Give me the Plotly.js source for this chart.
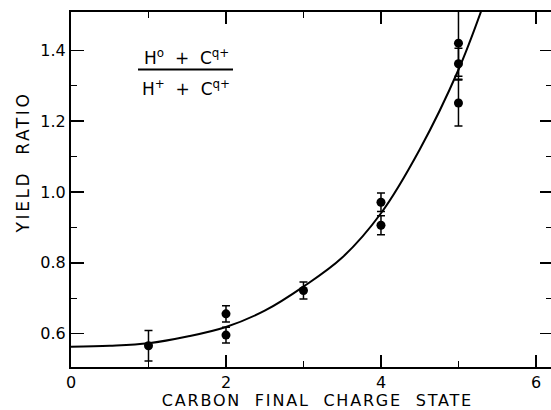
<!DOCTYPE html>
<html><head><meta charset="utf-8">
<script src="https://cdn.plot.ly/plotly-3.0.1.min.js"></script>
<style>
html,body{margin:0;padding:0;background:#fff;overflow:hidden}
#chart{width:551px;height:410px}
g.annotation[data-index="0"] text{letter-spacing:1.8px}
g.annotation[data-index="1"] text{letter-spacing:2.6px}
</style></head><body><div id="chart"></div>
<script>
// measured data points (carbon final charge state vs yield ratio)
const chargeStates = [1, 2, 2, 3, 4, 4, 5, 5, 5];
const yieldRatios  = [0.566, 0.656, 0.596, 0.722, 0.971, 0.906, 1.42, 1.362, 1.251];
const yieldErrors  = [0.043, 0.023, 0.022, 0.024, 0.026, 0.027, 0.093, 0.044, 0.065];
// fitted curve
const fitX = [0, 0.5, 1, 1.5, 2, 2.5, 3, 3.5, 4, 4.5, 5, 5.3];
const fitY = [0.563, 0.566, 0.573, 0.592, 0.619, 0.665, 0.733, 0.815, 0.94, 1.12, 1.345, 1.515];
// ticks
const xTickVals = [0, 2, 4, 6];
const xTickText = ['0', '2', '4', '6'];
const xMinorVals = [1, 3, 5];
const yTickVals = [0.6, 0.8, 1.0, 1.2, 1.4];
const yTickText = ['0.6', '0.8', '1.0', '1.2', '1.4'];
const yMinorVals = [0.7, 0.9, 1.1, 1.3];

const FONT = 'DejaVu Sans, Liberation Sans, sans-serif';
const yRange = [0.506, 1.508];

const traces = [
  {x: fitX, y: fitY, mode: 'lines', line: {shape: 'spline', color: '#000', width: 2}, hoverinfo: 'skip', showlegend: false},
  {x: chargeStates, y: yieldRatios, mode: 'markers', marker: {color: '#000', size: 9},
   error_y: {type: 'data', array: yieldErrors, visible: true, color: '#000', thickness: 1.5, width: 4},
   showlegend: false},
  {x: fitX, y: fitY, yaxis: 'y2', mode: 'lines', line: {width: 0}, opacity: 0, hoverinfo: 'skip', showlegend: false}
];

const layout = {
  width: 551, height: 410,
  margin: {l: 71, r: 0, t: 12, b: 43},
  paper_bgcolor: '#fff', plot_bgcolor: '#fff',
  font: {family: FONT, color: '#000'},
  xaxis: {
    range: [0, 6.194], tickmode: 'array', tickvals: xTickVals, ticktext: xTickText,
    ticks: 'inside', ticklen: 12, tickwidth: 1.5, tickcolor: '#000',
    showline: true, linewidth: 2, linecolor: '#000', mirror: 'ticks',
    showgrid: false, zeroline: false,
    tickfont: {family: FONT, size: 16, color: '#000'},
    minor: {tickmode: 'array', tickvals: xMinorVals, ticks: 'inside', ticklen: 6, tickwidth: 1.5, tickcolor: '#000', showgrid: false}
  },
  yaxis: {
    range: yRange, tickmode: 'array', tickvals: yTickVals, ticktext: yTickText,
    ticks: 'inside', ticklen: 13, tickwidth: 1.5, tickcolor: '#000',
    showline: true, linewidth: 2, linecolor: '#000',
    showgrid: false, zeroline: false,
    tickfont: {family: FONT, size: 16, color: '#000'},
    minor: {tickmode: 'array', tickvals: yMinorVals, ticks: 'inside', ticklen: 6, tickwidth: 1.5, tickcolor: '#000', showgrid: false}
  },
  yaxis2: {
    overlaying: 'y', side: 'right', range: yRange, tickmode: 'array', tickvals: yTickVals,
    showticklabels: false, ticks: 'inside', ticklen: 11, tickwidth: 1.5, tickcolor: '#000',
    showline: false, showgrid: false, zeroline: false,
    minor: {tickmode: 'array', tickvals: yMinorVals, ticks: 'inside', ticklen: 5, tickwidth: 1.5, tickcolor: '#000', showgrid: false}
  },
  annotations: [
    {text: 'CARBON\u00a0\u00a0FINAL\u00a0\u00a0CHARGE\u00a0\u00a0STATE', xref: 'paper', yref: 'paper',
     x: 0.5135, y: -0.0944, xanchor: 'center', yanchor: 'middle', showarrow: false, borderpad: 0,
     font: {family: FONT, size: 16, color: '#000'}},
    {text: 'YIELD\u00a0\u00a0RATIO', xref: 'paper', yref: 'paper', textangle: -90,
     x: -0.1, y: 0.575, xanchor: 'center', yanchor: 'middle', showarrow: false,
     font: {family: FONT, size: 17, color: '#000'}},
    {text: 'H<sup>o</sup>\u00a0\u00a0+\u00a0\u00a0C<sup>q+</sup>', xref: 'paper', yref: 'paper',
     x: 0.2396, y: 0.873, xanchor: 'center', yanchor: 'middle', showarrow: false,
     font: {family: FONT, size: 17, color: '#000'}},
    {text: 'H<sup>+</sup>\u00a0\u00a0+\u00a0\u00a0C<sup>q+</sup>', xref: 'paper', yref: 'paper',
     x: 0.2396, y: 0.786, xanchor: 'center', yanchor: 'middle', showarrow: false,
     font: {family: FONT, size: 17, color: '#000'}}
  ],
  shapes: [
    {type: 'line', xref: 'paper', yref: 'paper', x0: 0.1396, x1: 0.3375, y0: 0.838, y1: 0.838,
     line: {color: '#000', width: 2}}
  ]
};

Plotly.newPlot('chart', traces, layout, {staticPlot: true, displayModeBar: false});
</script></body></html>
